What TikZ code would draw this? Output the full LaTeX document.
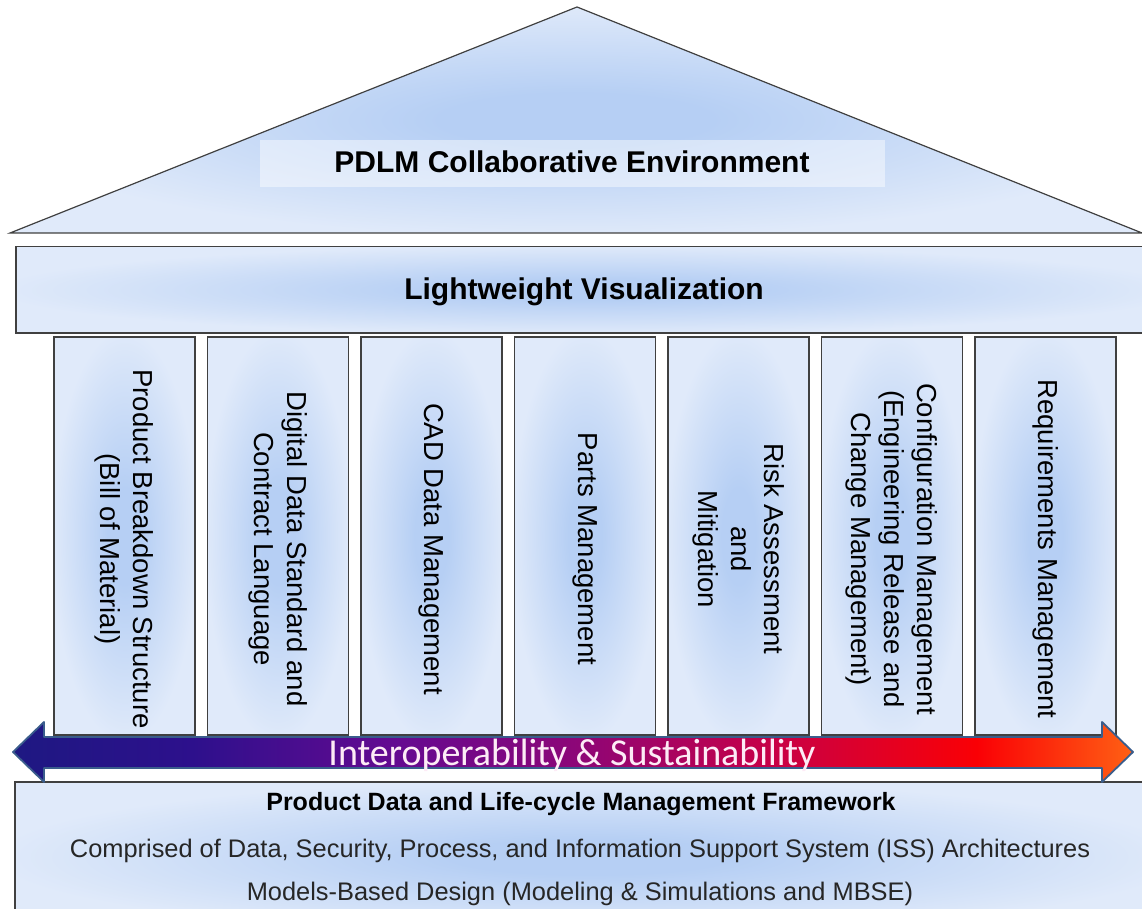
\documentclass[tikz,border=0pt]{standalone}
\usepackage{fontspec}
\setmainfont{Liberation Sans}
\newfontfamily\calibrifont{Carlito}
\usetikzlibrary{positioning}
\definecolor{paneledge}{RGB}{224,234,250}
\definecolor{panelmid}{RGB}{182,207,244}
\definecolor{framegray}{RGB}{64,64,64}
\definecolor{arrowrim}{RGB}{58,93,140}
\definecolor{navyend}{RGB}{30,24,130}
\definecolor{violetA}{RGB}{45,16,140}
\definecolor{violetB}{RGB}{100,10,145}
\definecolor{plumC}{RGB}{140,6,120}
\definecolor{crimsonD}{RGB}{200,0,70}
\definecolor{redE}{RGB}{250,0,5}
\definecolor{orangeF}{RGB}{255,96,20}
\pgfdeclareradialshading{panelglow}{\pgfpoint{0bp}{0bp}}{color(0bp)=(panelmid); color(6bp)=(panelmid); color(26bp)=(paneledge); color(50bp)=(paneledge)}
\pgfdeclarehorizontalshading{interop}{100bp}{color(0bp)=(navyend); color(25bp)=(navyend); color(33bp)=(violetA); color(42bp)=(violetB); color(50bp)=(plumC); color(59bp)=(crimsonD); color(68bp)=(redE); color(75bp)=(orangeF); color(100bp)=(orangeF)}

\begin{document}
\begin{tikzpicture}[x=1pt,y=-1pt]
\tikzstyle{panel}=[draw=framegray, line width=1.5pt, shading=panelglow]
\tikzstyle{pillar}=[panel, rectangle, minimum width=141pt, minimum height=398pt, inner sep=0pt, outer sep=0pt]
\tikzstyle{pillartxt}=[rotate=-90, align=center, font=\fontsize{27.5}{33}\selectfont, text=black]
\tikzstyle{headtxt}=[font=\bfseries\fontsize{30}{36}\selectfont, anchor=base]
\tikzstyle{basetxt}=[font=\fontsize{25.4}{30}\selectfont, anchor=base, text=black!85]
\useasboundingbox (0,0) rectangle (1142,909);
\clip (0,0) rectangle (1142,909);
% roof
\shade[panel, line width=1.2pt] (10,233) -- (577,7) -- (1142,233) -- cycle;
\node (roofband) [fill=white, fill opacity=0.45, minimum width=625pt, minimum height=47pt] at (572.5,163.5) {};
\node (rooftxt) [headtxt] at (572,173) {PDLM Collaborative Environment};
% beam
\node (beam) [panel, rectangle, anchor=north west, minimum width=1150pt, minimum height=86pt, inner sep=0pt] at (15,246) {};
\node (beamtxt) [headtxt] at (584,299) {Lightweight Visualization};
% pillars
\node (c1) [pillar, anchor=north west] at (54,337) {};
\node (c2) [pillar, right=12.5pt of c1] {};
\node (c3) [pillar, right=12.5pt of c2] {};
\node (c4) [pillar, right=12.5pt of c3] {};
\node (c5) [pillar, right=12.5pt of c4] {};
\node (c6) [pillar, right=12.5pt of c5] {};
\node (c7) [pillar, right=12.5pt of c6] {};
\node (t1) [pillartxt] at ([yshift=-13pt]c1.center) {Product Breakdown Structure\\(Bill of Material)};
\node (t2) [pillartxt] at ([yshift=-13pt]c2.center) {Digital Data Standard and\\Contract Language};
\node (t3) [pillartxt] at ([yshift=-13pt]c3.center) {CAD Data Management};
\node (t4) [pillartxt] at ([yshift=-13pt]c4.center) {Parts Management};
\node (t5) [pillartxt] at ([yshift=-13pt]c5.center) {Risk Assessment\\and\\Mitigation};
\node (t6) [pillartxt] at ([yshift=-13pt]c6.center) {Configuration Management\\(Engineering Release and\\Change Management)};
\node (t7) [pillartxt] at ([yshift=-13pt]c7.center) {Requirements Management};
% foundation
\node (base) [panel, rectangle, anchor=north west, minimum width=1150pt, minimum height=150pt, inner sep=0pt] at (14,781) {};
\node (basehead) [basetxt, font=\bfseries\fontsize{25}{30}\selectfont, text=black] at (581,810) {Product Data and Life-cycle Management Framework};
\node (basemid) [basetxt] at (580,857) {Comprised of Data, Security, Process, and Information Support System (ISS) Architectures};
\node (baselow) [basetxt] at (580,900) {Models-Based Design (Modeling \& Simulations and MBSE)};
% double arrow
\shade[shading=interop, draw=arrowrim, line width=1.8pt, line join=round] (13,752) -- (44,722) -- (44,737) -- (1102,737) -- (1102,722) -- (1133,752) -- (1102,782) -- (1102,768) -- (44,768) -- (44,782) -- cycle;
\node (interoptxt) [font=\calibrifont\fontsize{38}{44}\selectfont, text=white!92!magenta, anchor=base] at (572,765) {Interoperability \& Sustainability};
\end{tikzpicture}
\end{document}
